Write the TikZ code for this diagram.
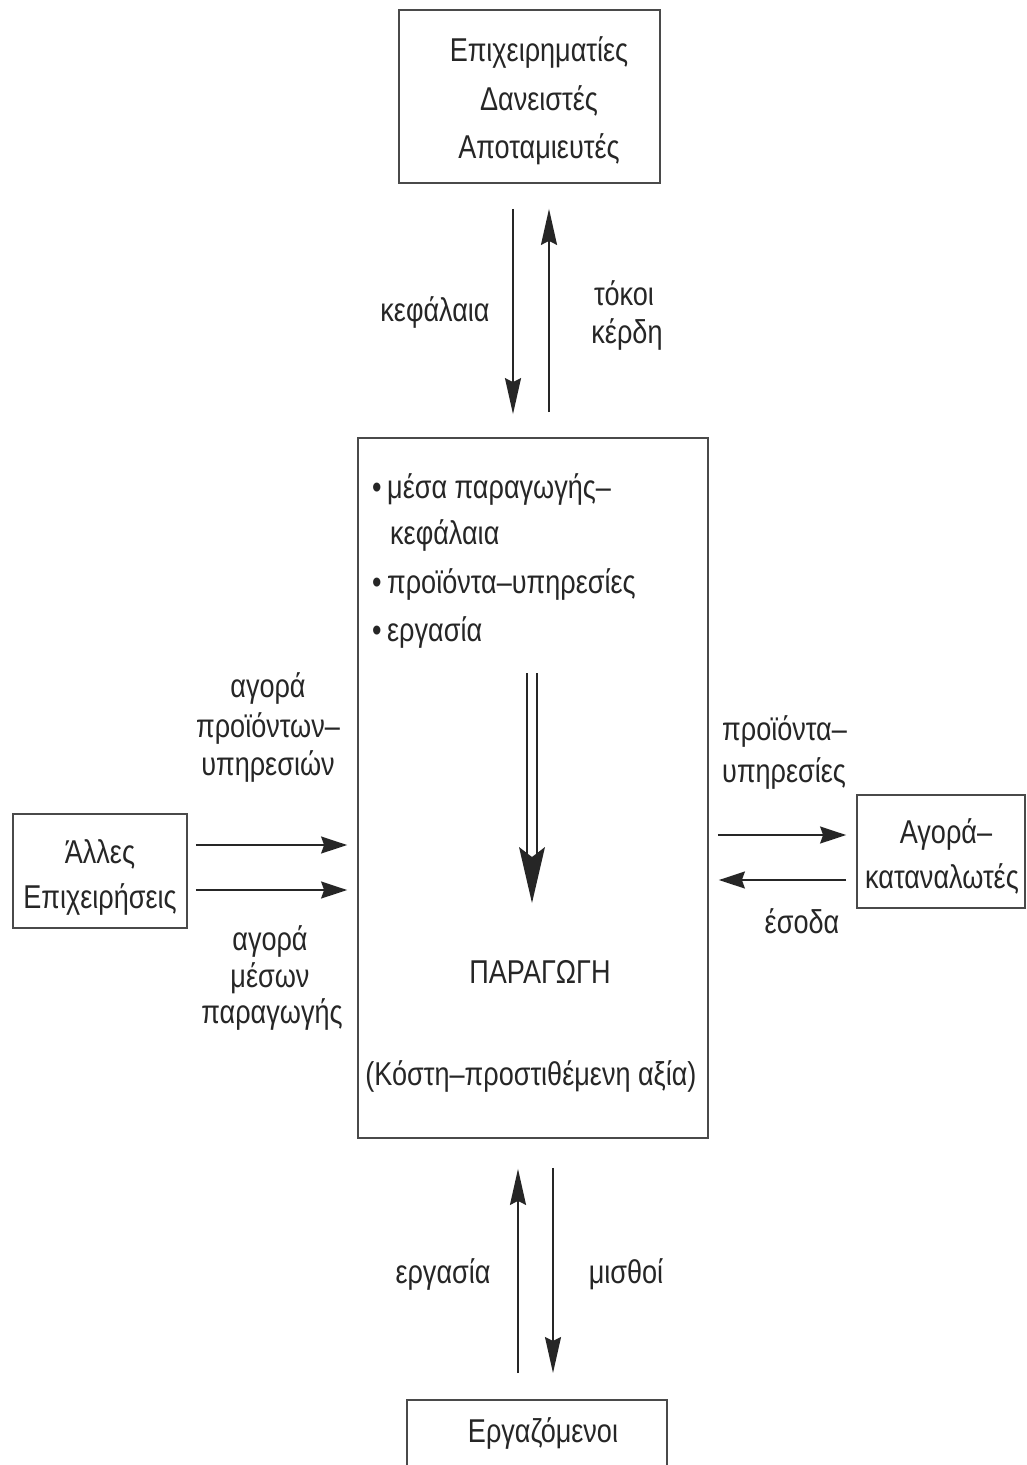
\documentclass[tikz,border=0pt]{standalone}
\usepackage{fontspec}
\setmainfont{Liberation Sans}[FakeStretch=0.82]
\usetikzlibrary{arrows.meta}
\definecolor{ink}{HTML}{262626}
\definecolor{rule}{HTML}{4A4A4A}

\begin{document}
\begin{tikzpicture}[x=1pt,y=-1pt,
  box/.style={draw=rule, line width=1.8pt, inner sep=0pt, rectangle},
  txt/.style={text=ink, font=\fontsize{33}{40}\selectfont, inner sep=0pt, anchor=base},
  txtl/.style={txt, anchor=base west},
  flow/.style={draw=ink, line width=1.8pt},
  vtip/.style={-{Stealth[length=36pt,width=16pt,inset=4pt]}},
  htip/.style={-{Stealth[length=26pt,width=17pt,inset=3pt]}},
]
\fill[white] (0,0) rectangle (1026,1465);
\useasboundingbox (0,0) rectangle (1026,1465);

% boxes
\node[box, minimum width=261pt, minimum height=173pt] (lenders) at (529.5,96.5) {};
\node[box, minimum width=350pt, minimum height=700pt] (prod) at (533,788) {};
\node[box, minimum width=174pt, minimum height=114pt] (firms) at (100,871) {};
\node[box, minimum width=168pt, minimum height=113pt] (market) at (941,851.5) {};
\node[box, anchor=north, minimum width=260pt, minimum height=120pt] (workers) at (537,1399) {};

% box texts
\node[txt] (lend1) at (539,61) {Επιχειρηματίες};
\node[txt] (lend2) at (539,110) {Δανειστές};
\node[txt] (lend3) at (539,158) {Αποταμιευτές};
\node[txt] (firm1) at (100,863) {Άλλες};
\node[txt] (firm2) at (100,908) {Επιχειρήσεις};
\node[txt] (mkt1) at (946,843) {Αγορά–};
\node[txt] (mkt2) at (942,888) {καταναλωτές};
\node[txt] (work1) at (543,1442) {Εργαζόμενοι};

% production box contents
\node[txtl] (item1) at (372,498) {•\,μέσα παραγωγής–};
\node[txtl] (item1b) at (390,544) {κεφάλαια};
\node[txtl] (item2) at (372,593) {•\,προϊόντα–υπηρεσίες};
\node[txtl] (item3) at (372,641) {•\,εργασία};
\node[txt] (prodtitle) at (540,983) {ΠΑΡΑΓΩΓΗ};
\node[txt] (prodsub) at (531,1085) {(Κόστη–προστιθέμενη αξία)};

% inner double arrow (yshift is in page units: positive = up)
\coordinate (flowtop) at (532,673);
\coordinate (flowtip) at (532,903);
\draw[ink, line width=1.6pt] ([xshift=-5pt]flowtop) -- ([xshift=-5pt,yshift=48pt]flowtip);
\draw[ink, line width=1.6pt] ([xshift=5pt]flowtop) -- ([xshift=5pt,yshift=48pt]flowtip);
\fill[ink] (flowtip) -- ([xshift=-13pt,yshift=56pt]flowtip) -- ([yshift=46pt]flowtip)
  -- ([xshift=13pt,yshift=56pt]flowtip) -- cycle;

% guide lines for the connectors
\coordinate (xa) at (513,0);
\coordinate (xb) at (549,0);
\coordinate (xc) at (518,0);
\coordinate (xd) at (553,0);
\coordinate (ya) at (0,845);
\coordinate (yb) at (0,890);
\coordinate (yc) at (0,835);
\coordinate (yd) at (0,880);

% vertical connectors
\draw[flow, vtip, shorten <=25pt, shorten >=23pt] (lenders.south -| xa) -- (prod.north -| xa);
\draw[flow, vtip, shorten <=25pt, shorten >=25pt] (prod.north -| xb) -- (lenders.south -| xb);
\draw[flow, vtip, shorten <=26pt, shorten >=30pt] (workers.north -| xc) -- (prod.south -| xc);
\draw[flow, vtip, shorten <=29pt, shorten >=26pt] (prod.south -| xd) -- (workers.north -| xd);

% horizontal connectors
\draw[flow, htip, shorten <=8pt, shorten >=10pt] (firms.east |- ya) -- (prod.west |- ya);
\draw[flow, htip, shorten <=8pt, shorten >=10pt] (firms.east |- yb) -- (prod.west |- yb);
\draw[flow, htip, shorten <=9pt, shorten >=10pt] (prod.east |- yc) -- (market.west |- yc);
\draw[flow, htip, shorten <=10pt, shorten >=10pt] (market.west |- yd) -- (prod.east |- yd);

% connector labels
\node[txt] (capital) at (435,321) {κεφάλαια};
\node[txt] (interest) at (624,305) {τόκοι};
\node[txt] (profit) at (627,343) {κέρδη};
\node[txt] (buy1) at (268,697) {αγορά};
\node[txt] (buy2) at (268,737) {προϊόντων–};
\node[txt] (buy3) at (268,775) {υπηρεσιών};
\node[txt] (means1) at (270,950) {αγορά};
\node[txt] (means2) at (270,987) {μέσων};
\node[txt] (means3) at (272,1023) {παραγωγής};
\node[txtl] (goods1) at (722,740) {προϊόντα–};
\node[txtl] (goods2) at (722,782) {υπηρεσίες};
\node[txt] (income) at (802,933) {έσοδα};
\node[txt] (labour) at (443,1283) {εργασία};
\node[txt] (wages) at (626,1283) {μισθοί};
\end{tikzpicture}
\end{document}
